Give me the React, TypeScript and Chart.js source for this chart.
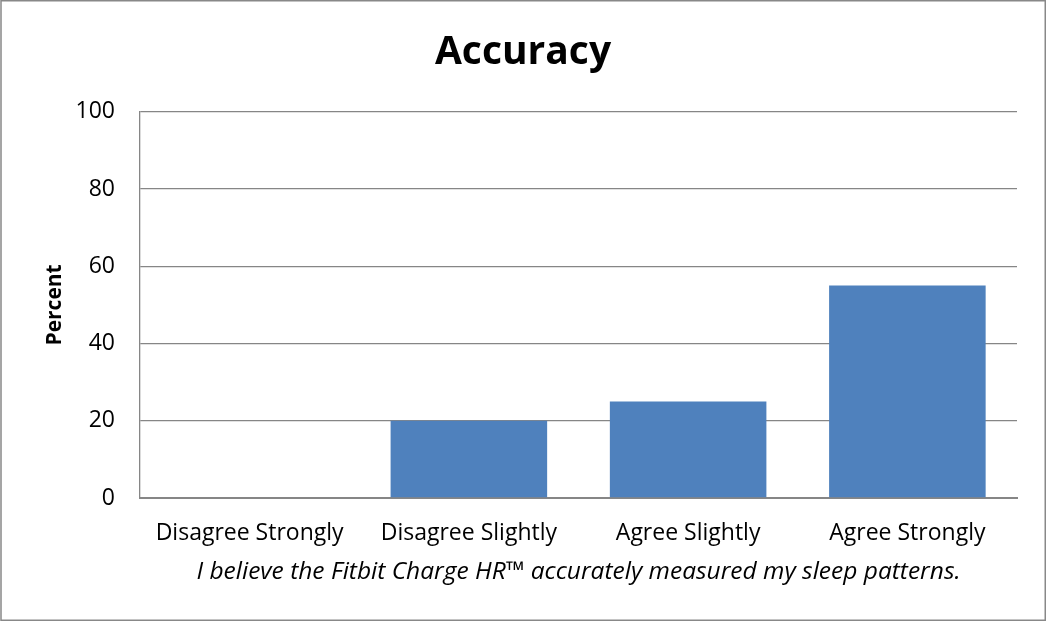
import React, { useEffect, useRef } from "react";
import { Chart, registerables } from "chart.js";

Chart.register(...registerables);

const categories = ["Disagree Strongly", "Disagree Slightly", "Agree Slightly", "Agree Strongly"];
const percentValues = [0, 20, 25, 55];
const chartTitle = "Accuracy";
const yAxisTitle = "Percent";
const xAxisTitle = "I believe the Fitbit Charge HR\u2122 accurately measured my sleep patterns.";

const FONT = "'Open Sans', 'Noto Sans', sans-serif";

const frame = {
  id: "frame",
  beforeDraw(chart: any) {
    const ctx = chart.ctx;
    ctx.save();
    ctx.fillStyle = "#ffffff";
    ctx.fillRect(0, 0, chart.width, chart.height);
    ctx.restore();
  },
  afterDraw(chart: any) {
    const ctx = chart.ctx;
    ctx.save();
    ctx.strokeStyle = "#888888";
    ctx.lineWidth = 1.5;
    ctx.strokeRect(1, 0.75, chart.width - 1.75, chart.height - 1.5);
    ctx.restore();
  },
};

export default function App() {
  const ref = useRef<HTMLCanvasElement | null>(null);
  useEffect(() => {
    if (!ref.current) return;
    const chart = new Chart(ref.current, {
      type: "bar",
      data: {
        labels: categories,
        datasets: [
          {
            data: percentValues,
            backgroundColor: "#4F81BD",
            borderWidth: 0,
            barPercentage: 0.714,
            categoryPercentage: 1,
          },
        ],
      },
      plugins: [frame],
      options: {
        animation: false,
        responsive: false,
        devicePixelRatio: 1,
        layout: { padding: 0 },
        plugins: {
          legend: { display: false },
          tooltip: { enabled: false },
          title: {
            display: true,
            text: chartTitle,
            color: "#000000",
            font: { family: FONT, size: 39, weight: "bold", lineHeight: 1.2 },
            padding: { top: 29, bottom: 36 },
          },
        },
        scales: {
          x: {
            grid: { display: false, drawTicks: false },
            border: { display: true, color: "#868686", width: 2 },
            ticks: {
              color: "#000000",
              font: { family: FONT, size: 23 },
              padding: 22,
              maxRotation: 0,
              autoSkip: false,
            },
            title: {
              display: true,
              text: xAxisTitle,
              color: "#000000",
              font: { family: FONT, size: 24.5, style: "italic", lineHeight: 1.2 },
              padding: { top: 0, bottom: 34 },
            },
            afterFit(scale: any) {
              scale.height = 123;
            },
          },
          y: {
            min: 0,
            max: 100,
            ticks: {
              stepSize: 20,
              color: "#000000",
              font: { family: FONT, size: 23 },
              padding: 25,
            },
            grid: { color: "#868686", lineWidth: 1.3, drawTicks: false },
            border: { display: true, color: "#868686", width: 1.3 },
            title: {
              display: true,
              text: yAxisTitle,
              color: "#000000",
              font: { family: FONT, size: 21, weight: "bold", lineHeight: 1.2 },
              padding: { top: 42, bottom: 0 },
            },
            afterFit(scale: any) {
              scale.width = 140;
            },
          },
          spacer: {
            type: "linear",
            position: "right",
            display: true,
            ticks: { display: false },
            grid: { display: false, drawTicks: false },
            border: { display: false },
            afterFit(scale: any) {
              scale.width = 29;
            },
          },
        },
      },
    } as any);
    return () => chart.destroy();
  }, []);
  return (
    <div style={{ position: "absolute", left: 0, top: 0, width: 1046, height: 621 }}>
      <canvas ref={ref} width={1046} height={621} style={{ display: "block" }} />
    </div>
  );
}
